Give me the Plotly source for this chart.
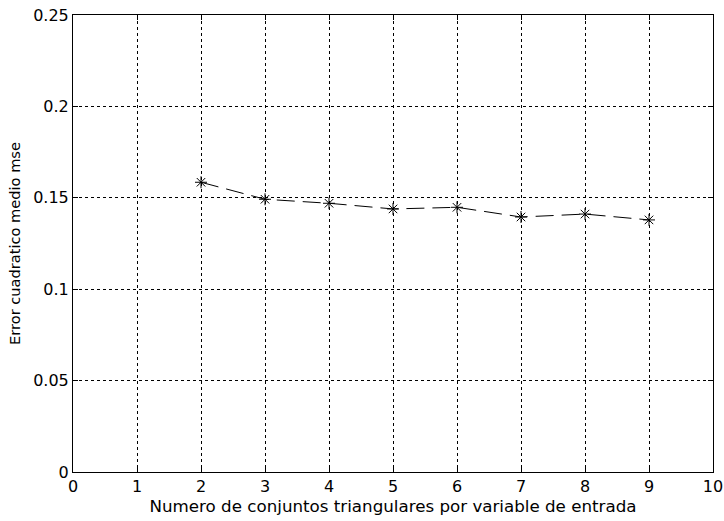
import plotly.graph_objects as go

n_sets = [2, 3, 4, 5, 6, 7, 8, 9]
mse = [0.1585, 0.1492, 0.1470, 0.1439, 0.1448, 0.1395, 0.1411, 0.1379]
x_ticks = list(range(0, 11))
y_ticks = [0, 0.05, 0.1, 0.15, 0.2, 0.25]
y_tick_text = ["0", "0.05", "0.1", "0.15", "0.2", "0.25"]

FONT = "DejaVu Sans, sans-serif"
FS = 16
FT = 16.7
FY = 14.6

fig = go.Figure()
fig.add_trace(go.Scatter(
    x=n_sets, y=mse, mode="lines+markers",
    line=dict(color="black", width=1, dash="18px,8px"),
    marker=dict(symbol="asterisk", size=10, color="black",
                line=dict(color="black", width=1)),
    showlegend=False,
))

axis_common = dict(
    showline=True, linecolor="black", linewidth=1, mirror="ticks",
    ticks="inside", ticklen=5, tickcolor="black",
    showgrid=True, gridcolor="black", griddash="dot", gridwidth=1,
    zeroline=False, automargin=False, ticklabeloverflow="allow",
    tickfont=dict(family=FONT, size=FS, color="black"),
)

fig.update_xaxes(range=[0, 10], tickvals=x_ticks, **axis_common,
                 title=dict(text="Numero de conjuntos triangulares por variable de entrada",
                            font=dict(family=FONT, size=FT, color="black"), standoff=5))
fig.update_yaxes(range=[0, 0.25], tickvals=y_ticks, ticktext=y_tick_text, **axis_common,
                 title=dict(text="Error cuadratico medio mse",
                            font=dict(family=FONT, size=FY, color="black"), standoff=9))

fig.update_layout(
    width=724, height=521,
    margin=dict(l=73, r=11, t=15, b=49),
    paper_bgcolor="white", plot_bgcolor="white",
    font=dict(family=FONT, size=FS, color="black"),
)

# remove the default 8px body margin so the figure sits at the page origin
fig.write_html("out.html", config={"displayModeBar": False},
               post_script="document.body.style.margin='0';document.body.style.overflow='hidden';")
